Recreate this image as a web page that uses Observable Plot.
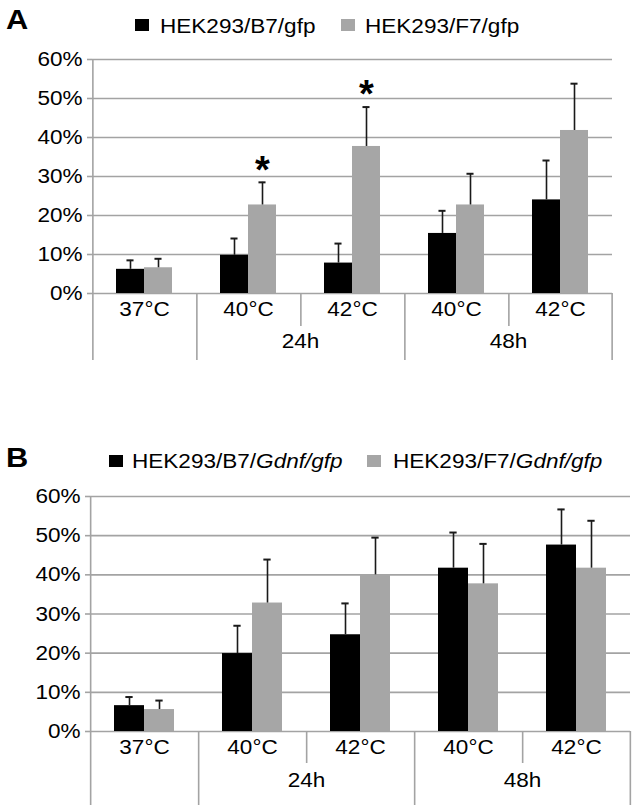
<!DOCTYPE html>
<html><head><meta charset="utf-8">
<script src="https://cdn.jsdelivr.net/npm/d3@7"></script>
<script src="https://cdn.jsdelivr.net/npm/@observablehq/plot@0.6"></script>
<style>
body{margin:0;background:#fff;font-family:"Liberation Sans",Arial,sans-serif;}
#fig{position:relative;width:638px;height:805px;overflow:hidden;background:#fff;}
.abs{position:absolute;line-height:1;white-space:nowrap;color:#000;transform-origin:0 0;}
.sw{position:absolute;width:14px;height:12px;}
</style></head><body><div id="fig"></div>
<script>
// ---- data ----
const categories = ["37", "24h-40", "24h-42", "48h-40", "48h-42"];
const categoryLabels = ["37°C", "40°C", "42°C", "40°C", "42°C"];
const groupLabels = ["", "24h", "", "48h", ""];
const seriesKeys = ["B7", "F7"];
const seriesColors = ["#000000", "#a6a6a6"];
const yTicks = [0, 10, 20, 30, 40, 50, 60];

const aNames = ["HEK293/B7/gfp", "HEK293/F7/gfp"];
const aB7 = [6.2, 9.8, 7.8, 15.4, 24.0];
const aB7err = [2.3, 4.3, 5.0, 5.8, 10.1];
const aF7 = [6.6, 22.7, 37.7, 22.7, 41.8];
const aF7err = [2.3, 5.8, 10.1, 8.0, 12.0];
const aF7sig = [false, true, true, false, false];

const bNamePrefix = ["HEK293/B7/", "HEK293/F7/"];
const bNameItalic = ["Gdnf/gfp", "Gdnf/gfp"];
const bB7 = [6.6, 19.9, 24.7, 41.7, 47.6];
const bB7err = [2.2, 7.1, 8.0, 9.1, 9.1];
const bF7 = [5.6, 32.8, 40.0, 37.7, 41.7];
const bF7err = [2.3, 11.1, 9.5, 10.2, 12.1];
const bF7sig = [false, false, false, false, false];

// ---- build ----
function rows(b7, b7e, f7, f7e, sig) {
  const out = [];
  categories.forEach((c, i) => {
    out.push({cat: c, series: "B7", value: b7[i], err: b7e[i], sig: false});
    out.push({cat: c, series: "F7", value: f7[i], err: f7e[i], sig: sig[i]});
  });
  return out;
}

const gridColor = "#a3a3a3";
const font = "Liberation Sans, Arial, sans-serif";
const stretch = 1.1; // the reference lettering is slightly wide

function panel(data, L) {
  const width = 638;
  const fw = (width - L.ml - L.mr) / categories.length;
  const step = fw / (2 + 2 * L.po);
  const edge = L.po * step + step / 2;
  const fh = L.height - L.mt - L.mb;
  const cats = categories.map((c, i) => ({cat: c, label: categoryLabels[i], group: groupLabels[i]}));
  const capInset = (step - 8) / 2;
  return Plot.plot({
    width, height: L.height,
    marginTop: L.mt, marginBottom: L.mb, marginLeft: L.ml, marginRight: L.mr,
    style: {fontFamily: font, fontSize: L.fs + "px", color: "#000", background: "transparent", overflow: "visible"},
    fx: {domain: categories, padding: 0, axis: null, label: null},
    x: {domain: seriesKeys, paddingInner: 0, paddingOuter: L.po, axis: null, label: null},
    y: {domain: [0, 60], label: null},
    color: {domain: seriesKeys, range: seriesColors},
    marks: [
      Plot.gridY(yTicks, {stroke: gridColor, strokeOpacity: 1, strokeWidth: 1.6}),
      Plot.barY(data, {fx: "cat", x: "series", y: "value", fill: "series"}),
      Plot.ruleX(data, {fx: "cat", x: "series", y1: "value", y2: d => d.value + d.err, stroke: "#1a1a1a", strokeWidth: 1.6}),
      Plot.tickY(data, {fx: "cat", x: "series", y: d => d.value + d.err, stroke: "#1a1a1a", strokeWidth: 2, insetLeft: capInset, insetRight: capInset}),
      Plot.text(data.filter(d => d.sig), {fx: "cat", x: "series", y: d => d.value + d.err, text: () => "*", dy: -12, fontSize: 38, fontWeight: "bold", fill: "#000"}),
      Plot.axisY({ticks: yTicks, tickFormat: d => d + "%", tickSize: 5, tickPadding: 5, fontSize: L.fs, stroke: gridColor, strokeWidth: 1.6, label: null}),
      Plot.ruleX([{cat: "37"}], {fx: "cat", x: () => "B7", dx: -edge, insetBottom: -L.long, stroke: gridColor, strokeWidth: 1.6}),
      Plot.ruleX([{cat: "24h-40"}, {cat: "48h-40"}], {fx: "cat", x: () => "B7", dx: -edge, insetTop: fh, insetBottom: -L.long, stroke: gridColor, strokeWidth: 1.6}),
      Plot.ruleX([{cat: "24h-42"}, {cat: "48h-42"}], {fx: "cat", x: () => "B7", dx: -edge, insetTop: fh, insetBottom: -L.short, stroke: gridColor, strokeWidth: 1.6}),
      Plot.ruleX([{cat: "48h-42"}], {fx: "cat", x: () => "F7", dx: edge, insetTop: fh, insetBottom: -L.long, stroke: gridColor, strokeWidth: 1.6}),
      Plot.text(cats, {fx: "cat", text: "label", frameAnchor: "bottom", dy: L.labelDy, fontSize: L.fs, fill: "#000"}),
      Plot.text(cats.filter(d => d.group), {fx: "cat", text: "group", frameAnchor: "bottom-right", textAnchor: "middle", dy: L.groupDy, fontSize: L.fs, fill: "#000"})
    ]
  });
}

function widen(svg) {
  svg.querySelectorAll("text").forEach(t => {
    if (t.textContent.length < 2) return;
    const w = t.getComputedTextLength();
    if (w > 0) {
      t.setAttribute("textLength", (w * stretch).toFixed(2));
      t.setAttribute("lengthAdjust", "spacingAndGlyphs");
    }
  });
}

const fig = document.getElementById("fig");

const svgA = panel(rows(aB7, aB7err, aF7, aF7err, aF7sig),
  {height: 420, mt: 59, mb: 127, ml: 91, mr: 26, po: 0.8, fs: 20.5, labelDy: 22.5, groupDy: 54, long: 67, short: 33});
svgA.style.position = "absolute"; svgA.style.left = "0px"; svgA.style.top = "0px";
fig.appendChild(svgA);
widen(svgA);

const svgB = panel(rows(bB7, bB7err, bF7, bF7err, bF7sig),
  {height: 385, mt: 76, mb: 74, ml: 89, mr: 7, po: 0.765, fs: 20.5, labelDy: 22.5, groupDy: 55, long: 74, short: 32});
svgB.style.position = "absolute"; svgB.style.left = "0px"; svgB.style.top = "420px";
fig.appendChild(svgB);
widen(svgB);

// ---- legends and panel letters ----
function addText(html, left, top, size, extra) {
  const d = document.createElement("div");
  d.className = "abs";
  d.style.left = left + "px"; d.style.top = top + "px"; d.style.fontSize = size + "px";
  d.style.transform = "scaleX(" + stretch + ")";
  if (extra) Object.assign(d.style, extra);
  d.innerHTML = html;
  fig.appendChild(d);
}
function addSwatch(color, left, top) {
  const s = document.createElement("div");
  s.className = "sw";
  s.style.left = left + "px"; s.style.top = top + "px"; s.style.background = color;
  fig.appendChild(s);
}
addText("A", 6, 6, 28, {fontWeight: "bold"});
addSwatch(seriesColors[0], 135, 19);
addText(aNames[0], 160, 16, 20.5);
addSwatch(seriesColors[1], 341, 19);
addText(aNames[1], 365, 16, 20.5);

addText("B", 6, 444, 28, {fontWeight: "bold"});
addSwatch(seriesColors[0], 109, 455);
addText(bNamePrefix[0] + "<i>" + bNameItalic[0] + "</i>", 132, 451, 20.5);
addSwatch(seriesColors[1], 367, 455);
addText(bNamePrefix[1] + "<i>" + bNameItalic[1] + "</i>", 393, 451, 20.5);
</script></body></html>
